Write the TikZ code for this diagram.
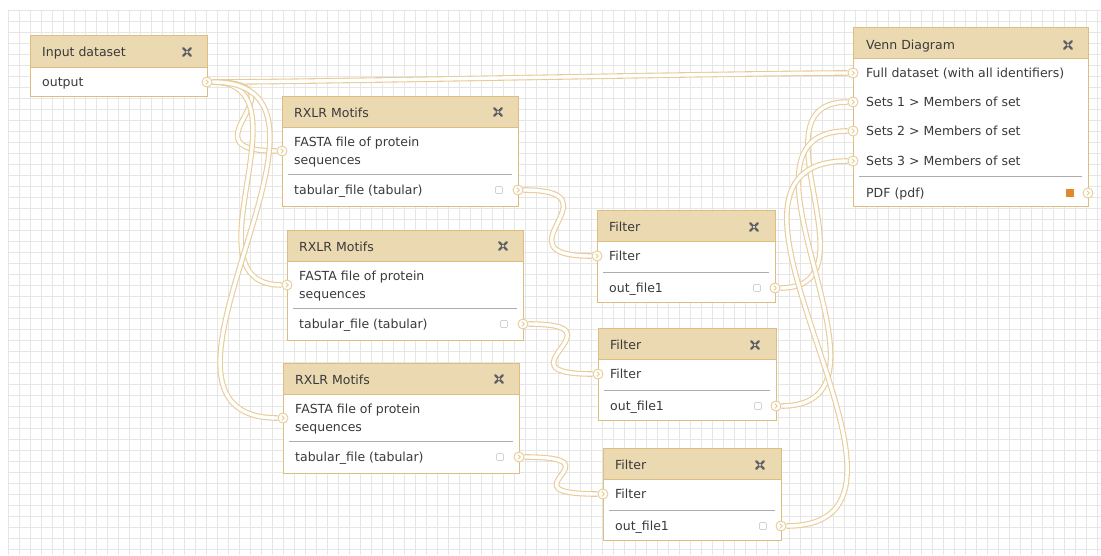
\documentclass[tikz,border=0pt]{standalone}
\usepackage{fontspec}
\setmainfont{DejaVu Sans}
\usepackage{tikz}
\usetikzlibrary{calc}

\definecolor{headtan}{HTML}{EBD9B2}
\definecolor{boxedge}{HTML}{DDBD80}
\definecolor{wiretan}{HTML}{E8CC98}
\definecolor{gridgray}{HTML}{E6E6E6}
\definecolor{labelgray}{HTML}{3A3A3A}
\definecolor{pdforange}{HTML}{E08A2C}

\tikzset{
  gridline/.style={gridgray, line width=0.8pt},
  headbar/.style={fill=headtan, draw=boxedge, line width=0.9pt},
  formbody/.style={fill=white, draw=boxedge, line width=0.9pt},
  lbl/.style={anchor=base west, inner sep=0pt, text=labelgray, font=\fontsize{12.5}{14}\selectfont},
  sepline/.style={gray!65, line width=0.7pt},
  checkbox/.style={draw=gray!35, fill=white, rounded corners=1pt, line width=0.7pt},
  port/.style={circle, draw=wiretan, fill=white, line width=0.9pt, minimum size=10pt, inner sep=0pt,
    path picture={\draw[wiretan, line width=0.8pt]
      ($(path picture bounding box.center)+(-1.2,2.4)$) -- ++(2.4,-2.4) -- ++(-2.4,-2.4);}},
  wire/.style={draw=wiretan, line width=1.1pt, double=white, double distance=3.4pt},
}

% small close button in the title bars
\newcommand{\closebtn}[1]{%
  \draw[gray!75!black, line width=2.4pt, line cap=round]
    ($(#1)+(-3.8,-3.8)$) -- ($(#1)+(3.8,3.8)$) ($(#1)+(-3.8,3.8)$) -- ($(#1)+(3.8,-3.8)$);
  \fill[gray!30] (#1) circle (1.4);}

\begin{document}
\begin{tikzpicture}[x=1pt, y=-1pt]

        \useasboundingbox (0,0) rectangle (1101,555);

        % canvas grid
        \foreach \gx in {8,19,...,1100} \draw[gridline] (\gx,10) -- (\gx,555);
        \foreach \gy in {10,21,...,555} \draw[gridline] (8,\gy) -- (1101,\gy);

        % Input dataset
        \draw[formbody] (30,35) rectangle (207,96);
        \draw[headbar] (30,35) rectangle (207,67);
        \node[lbl] (inp-title) at (42,56) {Input dataset};
        \closebtn{187,52}
        \node[lbl] (inp-lbl) at (42,86) {output};
        \node[port] (inp-out) at (207,82) {};

        % the three RXLR Motifs tools
        \foreach \x/\y/\n in {282/96/1, 287/230/2, 283/363/3} {
          \draw[formbody] (\x,\y) rectangle ++(236,110);
          \draw[headbar] (\x,\y) rectangle ++(236,31);
          \node[lbl] (rx\n-title) at (\x+12,\y+21) {RXLR Motifs};
          \closebtn{\x+216,\y+16}
          \node[lbl] (rx\n-fasta) at (\x+12,\y+50) {FASTA file of protein};
          \node[lbl] (rx\n-seq) at (\x+12,\y+68) {sequences};
          \draw[sepline] (\x+6,\y+78) -- (\x+230,\y+78);
          \node[lbl] (rx\n-tab) at (\x+12,\y+98) {tabular\_file (tabular)};
          \draw[checkbox] (\x+213.5,\y+90.5) rectangle ++(7,7);
          \node[port] (rx\n-in) at (\x,\y+55) {};
          \node[port] (rx\n-out) at (\x+236,\y+94) {};
        }

        % the three Filter tools
        \foreach \x/\y/\n in {597/210/1, 598/328/2, 603/448/3} {
          \draw[formbody] (\x,\y) rectangle ++(178,92);
          \draw[headbar] (\x,\y) rectangle ++(178,31);
          \node[lbl] (flt\n-title) at (\x+12,\y+21) {Filter};
          \closebtn{\x+157,\y+17}
          \node[lbl] (flt\n-cond) at (\x+12,\y+50) {Filter};
          \draw[sepline] (\x+6,\y+62) -- (\x+172,\y+62);
          \node[lbl] (flt\n-file) at (\x+12,\y+82) {out\_file1};
          \draw[checkbox] (\x+156.5,\y+74.5) rectangle ++(7,7);
          \node[port] (flt\n-in) at (\x,\y+46) {};
          \node[port] (flt\n-out) at (\x+178,\y+78) {};
        }

        % Venn Diagram
        \draw[formbody] (853,27) rectangle (1088,206);
        \draw[headbar] (853,27) rectangle (1088,58);
        \node[lbl] (venn-title) at (866,49) {Venn Diagram};
        \closebtn{1068,45}
        \node[lbl] (venn-full-lbl) at (866,77) {Full dataset (with all identifiers)};
        \node[lbl] (venn-set1-lbl) at (866,106) {Sets 1 > Members of set};
        \node[lbl] (venn-set2-lbl) at (866,135) {Sets 2 > Members of set};
        \node[lbl] (venn-set3-lbl) at (866,165) {Sets 3 > Members of set};
        \draw[sepline] (859,176) -- (1082,176);
        \node[lbl] (venn-pdf-lbl) at (866,197) {PDF (pdf)};
        \fill[pdforange] (1066,189) rectangle ++(8,8);
        \node[port] (venn-full) at (853,73) {};
        \node[port] (venn-set1) at (853,102) {};
        \node[port] (venn-set2) at (853,131) {};
        \node[port] (venn-set3) at (853,161) {};
        \node[port] (venn-pdf) at (1088,193) {};

        % connections
        \draw[wire] (inp-out.east) .. controls +(100,0) and +(-100,0) .. (venn-full.west);
        \foreach \n/\s in {1/100, 2/101, 3/168}
          \draw[wire] (inp-out.east) .. controls +(\s,0) and +(-\s,0) .. (rx\n-in.west);
        \foreach \n in {1,2,3}
          \draw[wire] (rx\n-out.east) .. controls +(100,0) and +(-100,0) .. (flt\n-in.west);
        \foreach \n/\s in {1/100, 2/137, 3/182}
          \draw[wire] (flt\n-out.east) .. controls +(\s,0) and +(-\s,0) .. (venn-set\n.west);

\end{tikzpicture}
\end{document}
